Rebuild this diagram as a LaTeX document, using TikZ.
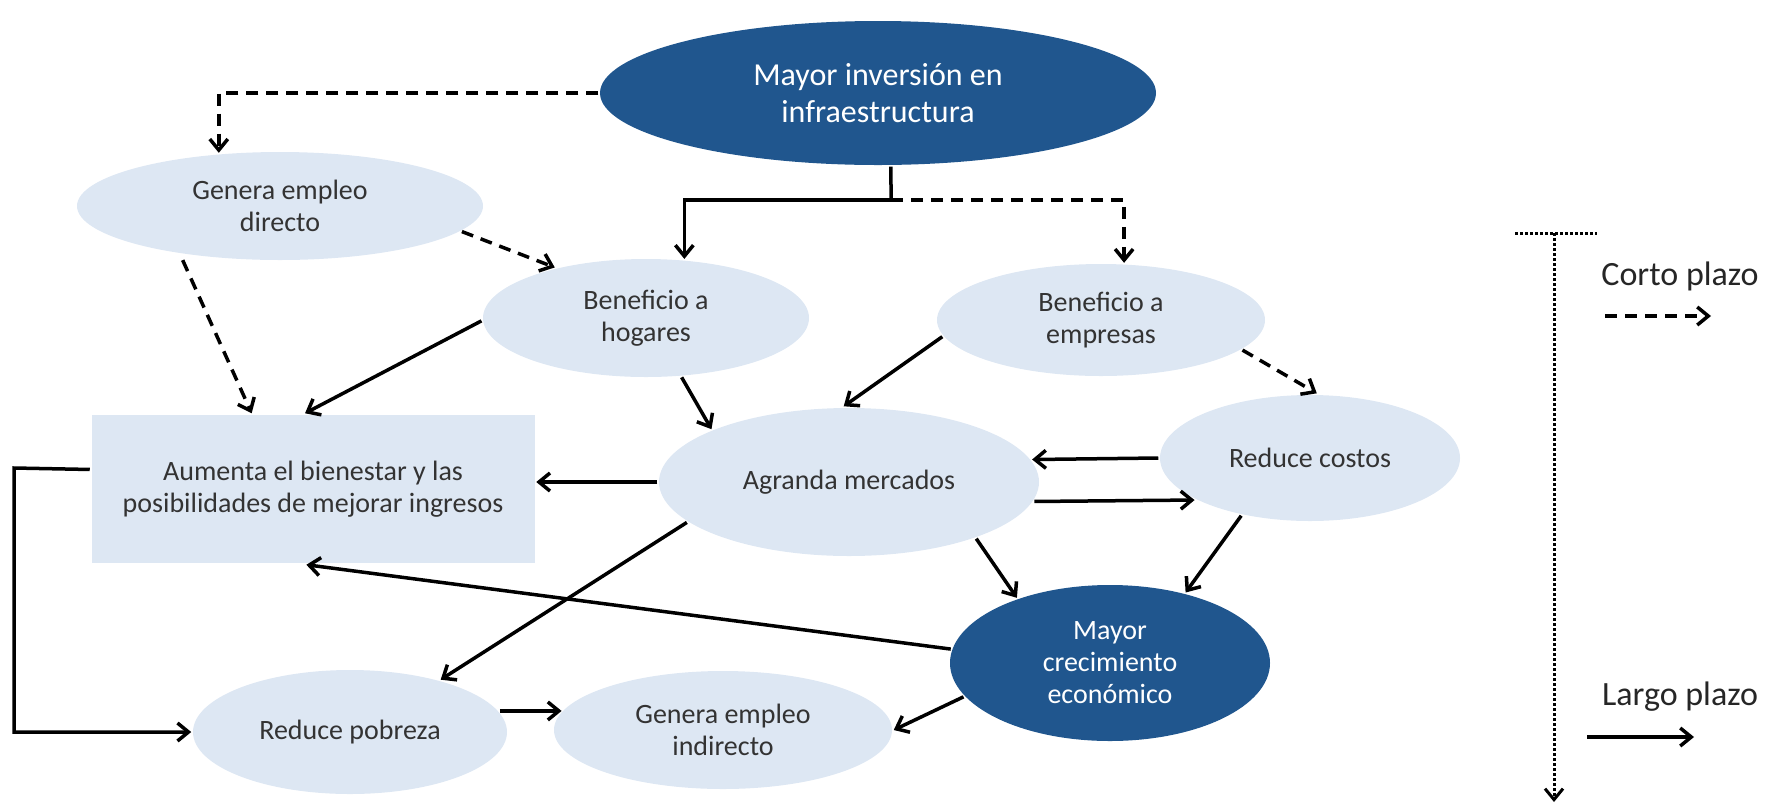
\documentclass[tikz,border=0pt]{standalone}
\usepackage{fontspec}
\setmainfont{Carlito}
\usetikzlibrary{shapes.geometric,arrows.meta}
\definecolor{darkblue}{RGB}{32,86,142}
\definecolor{lightblue}{RGB}{221,231,243}
\tikzset{every picture/.style={line width=3.5pt}}
\tikzset{dims/.style 2 args={minimum width=#1pt, minimum height=#2pt}}
\tikzset{light node/.style={ellipse, fill=lightblue, inner sep=0pt, align=center, text=black!80, font=\fontsize{28}{32}\selectfont}}
\tikzset{dark node/.style={light node, fill=darkblue, text=white}}
\tikzset{box node/.style={light node, rectangle}}
\tikzset{legend text/.style={font=\fontsize{34}{38}\selectfont, text=black!85}}
\tikzset{long arrow/.style={->}}
\tikzset{short arrow/.style={->, dash pattern=on 12pt off 8pt}}
\tikzset{dotted line/.style={line width=3pt, dash pattern=on 2.5pt off 2.5pt}}

\begin{document}
\begin{tikzpicture}[x=1pt, y=-1pt, >={Straight Barb[length=11pt,width=18pt]}]
    \useasboundingbox (0,0) rectangle (1783,807);
    \node[dark node, dims={556}{144}, font=\fontsize{32}{37}\selectfont] (inv) at (878,93) {Mayor inversión en\\infraestructura};
    \node[light node, dims={406}{108}] (gdir) at (280,206) {Genera empleo\\directo};
    \node[light node, dims={326}{118}] (hog) at (646,318) {Beneficio a\\hogares};
    \node[light node, dims={328}{112}] (emp) at (1101,320) {Beneficio a\\empresas};
    \node[box node, dims={443}{148}] (bien) at (313,489) {Aumenta el bienestar y las\\posibilidades de mejorar ingresos};
    \node[light node, dims={380}{148}] (merc) at (849,482) {Agranda mercados};
    \node[light node, dims={300}{126}] (cost) at (1310,458) {Reduce costos};
    \node[dark node, dims={320}{156}] (crec) at (1110,663) {Mayor\\crecimiento\\económico};
    \node[light node, dims={314}{124}] (pob) at (350,732) {Reduce pobreza};
    \node[light node, dims={338}{118}] (gind) at (723,730) {Genera empleo\\indirecto};
    \coordinate (fork) at (891,200);
    \coordinate (back) at (14,468);

    \draw[short arrow] (inv.west) -| (gdir.139);
    \draw (inv.-80) -- (fork);
    \draw[long arrow] (fork) -| (hog.57);
    \draw[short arrow] (fork) -| (emp.68);
    \draw[short arrow] (gdir.-8) -- (hog.151);
    \draw[short arrow, shorten <=6pt] (gdir.206) -- (bien.129);
    \draw[long arrow] (hog.181) -- (bien.96);
    \draw[long arrow] (hog.-59) -- (merc.159);
    \draw[long arrow] (emp.186) -- (merc.94);
    \draw[short arrow] (emp.-12) -- (cost.84);
    \draw[long arrow] (cost.180) -- (merc.7);
    \draw[long arrow] (merc.-6) -- (cost.200);
    \draw[long arrow] (merc.180) -- (merc.180 -| bien.east);
    \draw[long arrow] (merc.-24) -- (crec.145);
    \draw[long arrow] (cost.220) -- (crec.43);
    \draw[long arrow] (merc.194) -- (pob.30);
    \draw[long arrow] (crec.175) -- (bien.-95);
    \draw[long arrow] (crec.193) -- (gind.0);
    \draw[long arrow] (pob.8) -- (pob.8 -| gind.173);
    \draw[long arrow] (bien.175) -- (back) |- (pob.west);

    % legend
    \coordinate (tl) at (1515,233);
    \coordinate (tr) at (1597,233);
    \coordinate (tm) at (1554,233);
    \coordinate (tb) at (1554,802);
    \draw[dotted line] (tl) -- (tr);
    \draw[dotted line, ->] (tm) -- (tb);
    \node[legend text] (corto) at (1680,276) {Corto plazo};
    \coordinate (c1) at (1605,316);
    \coordinate (c2) at (1711,316);
    \draw[short arrow] (c1) -- (c2);
    \node[legend text] (largo) at (1680,697) {Largo plazo};
    \coordinate (l1) at (1587,737);
    \coordinate (l2) at (1694,737);
    \draw[long arrow] (l1) -- (l2);
\end{tikzpicture}
\end{document}
